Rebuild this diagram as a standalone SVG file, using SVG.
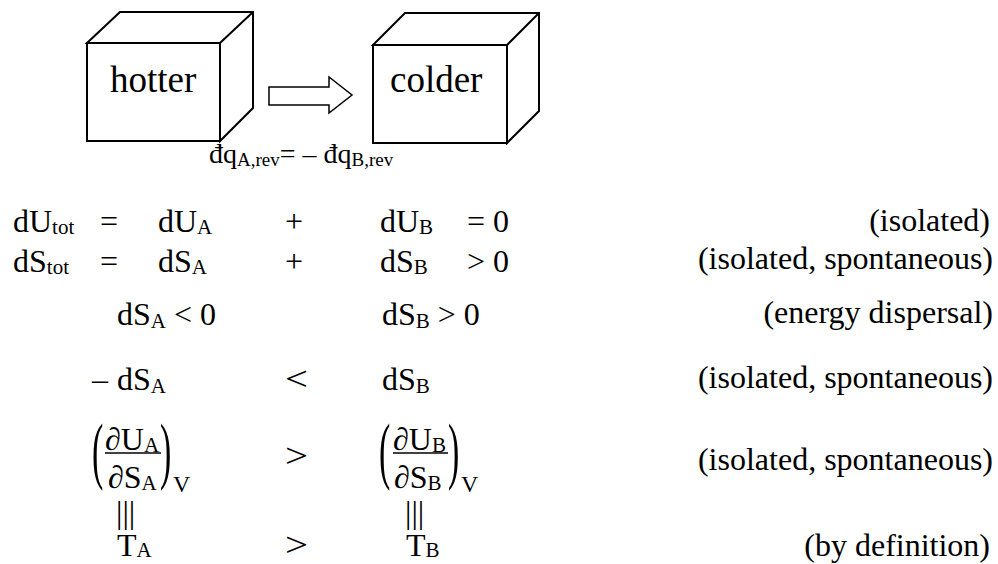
<svg xmlns="http://www.w3.org/2000/svg" width="998" height="564" viewBox="0 0 998 564" font-family="'Liberation Serif', 'Times New Roman', serif">
<style>
text{font-family:'Liberation Serif','Times New Roman',serif;fill:#000}
.m{font-size:32px}
.s{font-size:21px}
.lab{font-size:32px;text-anchor:end}
.box{fill:#fff;stroke:#000;stroke-width:2;stroke-linejoin:miter}
.par{font-size:34px}
.rel{font-size:34px}
</style>
<rect width="998" height="564" fill="#fff"/>
<g id="box-hotter">
<path class="box" d="M87,43 L120,12 L253,12 L253,108 L220,141 L220,43 Z M220,43 L253,12"/>
<rect class="box" x="87" y="43" width="133" height="98"/>
<text x="110" y="92" style="font-size:37px">hotter</text>
</g>
<g id="box-colder">
<path class="box" d="M373,45 L405,13 L539,13 L539,111 L507,143 L507,45 Z M507,45 L539,13"/>
<rect class="box" x="373" y="45" width="134" height="98"/>
<text x="390" y="92" style="font-size:37px">colder</text>
</g>
<g id="connectors">
<path d="M269,87 L329,87 L329,77 L352,95 L329,113 L329,105 L269,105 Z" fill="#fff" stroke="#000" stroke-width="1.5"/>
</g>
<g id="caption">
<text style="font-size:28px" x="209" y="163">đq<tspan dy="3" style="font-size:19px">A,rev</tspan><tspan dy="-3">= – đq</tspan><tspan dy="3" style="font-size:19px">B,rev</tspan></text>
</g>
<g id="row1">
<text class="m" y="232"><tspan x="13">dU</tspan><tspan class="s" dy="2">tot</tspan></text>
<text class="m" x="100" y="232">=</text>
<text class="m" y="232"><tspan x="158">dU</tspan><tspan class="s" dy="2">A</tspan></text>
<text class="m" x="285" y="232">+</text>
<text class="m" y="232"><tspan x="380">dU</tspan><tspan class="s" dy="2">B</tspan></text>
<text class="m" x="467" y="232">= 0</text>
<text class="lab" x="990" y="231">(isolated)</text>
</g>
<g id="row2">
<text class="m" y="272"><tspan x="13">dS</tspan><tspan class="s" dy="2">tot</tspan></text>
<text class="m" x="100" y="272">=</text>
<text class="m" y="272"><tspan x="158">dS</tspan><tspan class="s" dy="2">A</tspan></text>
<text class="m" x="285" y="272">+</text>
<text class="m" y="272"><tspan x="380">dS</tspan><tspan class="s" dy="2">B</tspan></text>
<text class="m" x="467" y="272">&gt; 0</text>
<text class="lab" x="993" y="269">(isolated, spontaneous)</text>
</g>
<g id="row3">
<text class="m" y="325"><tspan x="117">dS</tspan><tspan class="s" dy="3">A</tspan><tspan dy="-3"> &lt; 0</tspan></text>
<text class="m" y="325"><tspan x="382">dS</tspan><tspan class="s" dy="3">B</tspan><tspan dy="-3"> &gt; 0</tspan></text>
<text class="lab" x="993" y="323">(energy dispersal)</text>
</g>
<g id="row4">
<text class="m" x="92" y="390">–</text>
<text class="m" y="390"><tspan x="117">dS</tspan><tspan class="s" dy="3">A</tspan></text>
<text class="rel" transform="translate(285,390) scale(1.2,1)">&lt;</text>
<text class="m" y="390"><tspan x="382">dS</tspan><tspan class="s" dy="3">B</tspan></text>
<text class="lab" x="993" y="388">(isolated, spontaneous)</text>
</g>
<g id="row5">
<text class="par" transform="translate(92,475) scale(1,2.2)">(</text>
<text class="m" y="450"><tspan x="105">∂U</tspan><tspan class="s" dy="2">A</tspan></text>
<line x1="105" y1="453" x2="161" y2="453" stroke="#000" stroke-width="1.6"/>
<text class="m" y="488"><tspan x="108">∂S</tspan><tspan class="s" dy="2">A</tspan></text>
<text class="par" transform="translate(160,475) scale(1,2.2)">)</text>
<text x="173" y="492" style="font-size:24px">V</text>
<text class="rel" transform="translate(285,467) scale(1.2,1)">&gt;</text>
<text class="par" transform="translate(379,475) scale(1,2.2)">(</text>
<text class="m" y="450"><tspan x="393">∂U</tspan><tspan class="s" dy="2">B</tspan></text>
<line x1="393" y1="453" x2="448" y2="453" stroke="#000" stroke-width="1.6"/>
<text class="m" y="488"><tspan x="394">∂S</tspan><tspan class="s" dy="2">B</tspan></text>
<text class="par" transform="translate(448,475) scale(1,2.2)">)</text>
<text x="461" y="492" style="font-size:24px">V</text>
<text class="lab" x="993" y="470">(isolated, spontaneous)</text>
</g>
<g id="row6">
<text x="116" y="523" style="font-size:32px">|||</text>
<text x="405" y="523" style="font-size:32px">|||</text>
<text class="m" y="556"><tspan x="117">T</tspan><tspan class="s" dy="1">A</tspan></text>
<text class="rel" transform="translate(285,556) scale(1.2,1)">&gt;</text>
<text class="m" y="556"><tspan x="406">T</tspan><tspan class="s" dy="1">B</tspan></text>
<text class="lab" x="990" y="556">(by definition)</text>
</g>
</svg>
